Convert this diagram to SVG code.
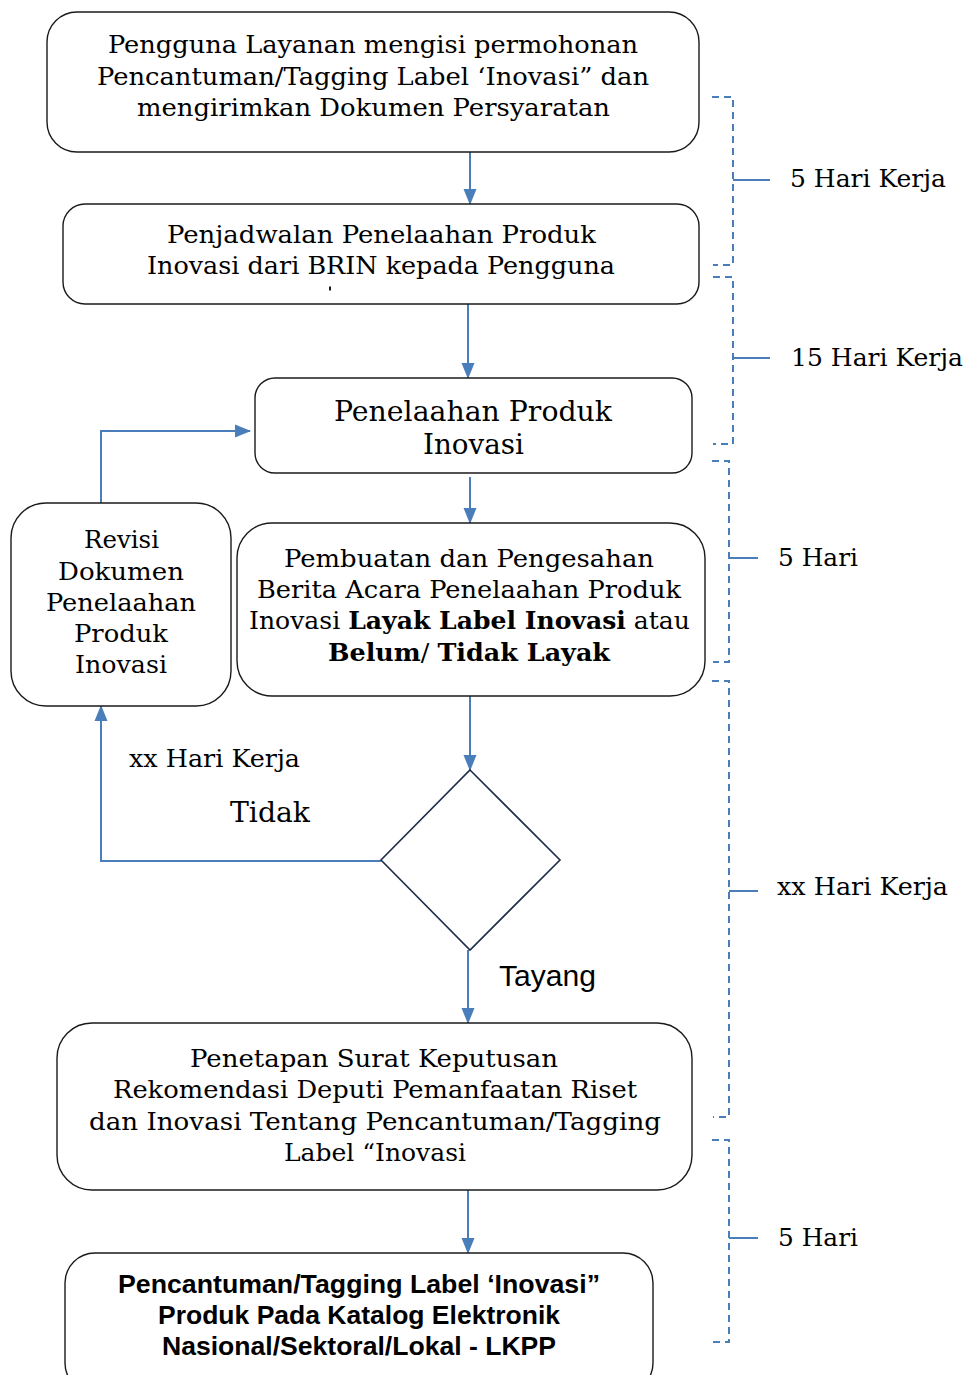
<svg xmlns="http://www.w3.org/2000/svg" width="967" height="1375" viewBox="0 0 967 1375">
<defs>
<marker id="ah" markerUnits="userSpaceOnUse" markerWidth="16" markerHeight="16" viewBox="0 0 16 16" refX="15" refY="8" orient="auto">
<path d="M0,1.5 L16,8 L0,14.5 Z" fill="#4a7ebb"/>
</marker>
<style>
.box{fill:#fff;stroke:#1a1a1a;stroke-width:1.4}
.dia{fill:#fff;stroke:#1f2d4a;stroke-width:1.6}
.con{fill:none;stroke:#4a7ebb;stroke-width:2}
.br{fill:none;stroke:#4a7ebb;stroke-width:2;stroke-dasharray:7 5}
.tk{fill:none;stroke:#4a7ebb;stroke-width:2}
.t{font-family:"DejaVu Serif","Liberation Serif",serif;font-size:24px;fill:#000;text-anchor:middle}
.tl{font-family:"DejaVu Serif","Liberation Serif",serif;font-size:24px;fill:#000}
.b{font-weight:bold}
.s{font-family:"Liberation Sans",Arial,sans-serif;fill:#000}
</style>
</defs>
<rect width="967" height="1375" fill="#fff"/>

<g id="connectors">
<line class="con" x1="470" y1="152" x2="470" y2="204" marker-end="url(#ah)"/>
<line class="con" x1="468" y1="304" x2="468" y2="378" marker-end="url(#ah)"/>
<line class="con" x1="470" y1="477" x2="470" y2="523" marker-end="url(#ah)"/>
<line class="con" x1="470" y1="696" x2="470" y2="770" marker-end="url(#ah)"/>
<line class="con" x1="468" y1="950" x2="468" y2="1023" marker-end="url(#ah)"/>
<line class="con" x1="468" y1="1190" x2="468" y2="1253" marker-end="url(#ah)"/>
<polyline class="con" points="381,861 101,861 101,706" marker-end="url(#ah)"/>
<polyline class="con" points="101,503 101,431 250,431" marker-end="url(#ah)"/>
</g>

<g id="node-1">
<rect class="box" x="47" y="12" width="652" height="140" rx="30"/>
<text class="t" x="373" y="53" textLength="530" lengthAdjust="spacingAndGlyphs">Pengguna Layanan mengisi permohonan</text>
<text class="t" x="373" y="85" textLength="552" lengthAdjust="spacingAndGlyphs">Pencantuman/Tagging Label ‘Inovasi” dan</text>
<text class="t" x="373.5" y="116" textLength="473" lengthAdjust="spacingAndGlyphs">mengirimkan Dokumen Persyaratan</text>
</g>

<g id="node-2">
<rect class="box" x="63" y="204" width="636" height="100" rx="22"/>
<text class="t" x="381.5" y="243" textLength="429" lengthAdjust="spacingAndGlyphs">Penjadwalan Penelaahan Produk</text>
<text class="t" x="381" y="274" textLength="468" lengthAdjust="spacingAndGlyphs">Inovasi dari BRIN kepada Pengguna</text>
<line x1="330" y1="286.5" x2="330" y2="290.5" stroke="#000" stroke-width="1.8"/>
</g>

<g id="node-3">
<rect class="box" x="255" y="378" width="437" height="95" rx="20"/>
<text class="t" x="473" y="421" style="font-size:28px" textLength="278" lengthAdjust="spacingAndGlyphs">Penelaahan Produk</text>
<text class="t" x="473.5" y="454" style="font-size:28px" textLength="101" lengthAdjust="spacingAndGlyphs">Inovasi</text>
</g>

<g id="node-4">
<rect class="box" x="237" y="523" width="468" height="173" rx="35"/>
<text class="t" x="469" y="567" textLength="370" lengthAdjust="spacingAndGlyphs">Pembuatan dan Pengesahan</text>
<text class="t" x="469" y="598" textLength="424" lengthAdjust="spacingAndGlyphs">Berita Acara Penelaahan Produk</text>
<text class="t" x="469.5" y="629" textLength="441" lengthAdjust="spacingAndGlyphs">Inovasi <tspan class="b">Layak Label Inovasi</tspan> atau</text>
<text class="t" x="469" y="661" textLength="282" lengthAdjust="spacingAndGlyphs"><tspan class="b">Belum</tspan>/ <tspan class="b">Tidak Layak</tspan></text>
</g>

<g id="node-revisi">
<rect class="box" x="11" y="503" width="220" height="203" rx="35"/>
<text class="t" x="121.5" y="548" style="font-size:25px" textLength="75" lengthAdjust="spacingAndGlyphs">Revisi</text>
<text class="t" x="121" y="580" style="font-size:25px" textLength="126" lengthAdjust="spacingAndGlyphs">Dokumen</text>
<text class="t" x="121" y="611" style="font-size:25px" textLength="150" lengthAdjust="spacingAndGlyphs">Penelaahan</text>
<text class="t" x="121" y="642" style="font-size:25px" textLength="94" lengthAdjust="spacingAndGlyphs">Produk</text>
<text class="t" x="121" y="673" style="font-size:25px" textLength="92" lengthAdjust="spacingAndGlyphs">Inovasi</text>
</g>

<g id="node-decision">
<polygon class="dia" points="470,770 560,860 470,950 381,860"/>
</g>

<g id="node-5">
<rect class="box" x="57" y="1023" width="635" height="167" rx="35"/>
<text class="t" x="374" y="1067" textLength="368" lengthAdjust="spacingAndGlyphs">Penetapan Surat Keputusan</text>
<text class="t" x="375" y="1098" textLength="524" lengthAdjust="spacingAndGlyphs">Rekomendasi Deputi Pemanfaatan Riset</text>
<text class="t" x="375" y="1130" textLength="572" lengthAdjust="spacingAndGlyphs">dan Inovasi Tentang Pencantuman/Tagging</text>
<text class="t" x="375" y="1161" textLength="182" lengthAdjust="spacingAndGlyphs">Label “Inovasi</text>
</g>

<g id="node-6">
<rect class="box" x="65" y="1253" width="588" height="140" rx="30"/>
<text class="s b" x="359" y="1293" text-anchor="middle" font-size="25" textLength="482" lengthAdjust="spacingAndGlyphs">Pencantuman/Tagging Label ‘Inovasi”</text>
<text class="s b" x="359" y="1324" text-anchor="middle" font-size="25" textLength="402" lengthAdjust="spacingAndGlyphs">Produk Pada Katalog Elektronik</text>
<text class="s b" x="359" y="1355" text-anchor="middle" font-size="25" textLength="394" lengthAdjust="spacingAndGlyphs">Nasional/Sektoral/Lokal - LKPP</text>
</g>

<g id="labels">
<text class="tl" x="129" y="767" textLength="171" lengthAdjust="spacingAndGlyphs">xx Hari Kerja</text>
<text class="tl" x="230" y="822" style="font-size:28px" textLength="80" lengthAdjust="spacingAndGlyphs">Tidak</text>
<text class="s" x="499" y="986" font-size="29" textLength="97" lengthAdjust="spacingAndGlyphs">Tayang</text>
</g>

<g id="durations">
<path class="br" d="M712,97 H733 V265 H713"/>
<line class="tk" x1="733" y1="180" x2="770" y2="180"/>
<text class="tl" x="790" y="187" textLength="156" lengthAdjust="spacingAndGlyphs">5 Hari Kerja</text>

<path class="br" d="M713,277 H733 V444 H713"/>
<line class="tk" x1="733" y1="358" x2="770" y2="358"/>
<text class="tl" x="791" y="366" textLength="172" lengthAdjust="spacingAndGlyphs">15 Hari Kerja</text>

<path class="br" d="M712,461 H729 V662 H713"/>
<line class="tk" x1="729" y1="558" x2="758" y2="558"/>
<text class="tl" x="778" y="566" textLength="80" lengthAdjust="spacingAndGlyphs">5 Hari</text>

<path class="br" d="M712,681 H729 V1117 H713"/>
<line class="tk" x1="729" y1="891" x2="758" y2="891"/>
<text class="tl" x="777" y="895" textLength="171" lengthAdjust="spacingAndGlyphs">xx Hari Kerja</text>

<path class="br" d="M712,1140 H729 V1342 H713"/>
<line class="tk" x1="729" y1="1238" x2="758" y2="1238"/>
<text class="tl" x="778" y="1246" textLength="80" lengthAdjust="spacingAndGlyphs">5 Hari</text>
</g>
</svg>
